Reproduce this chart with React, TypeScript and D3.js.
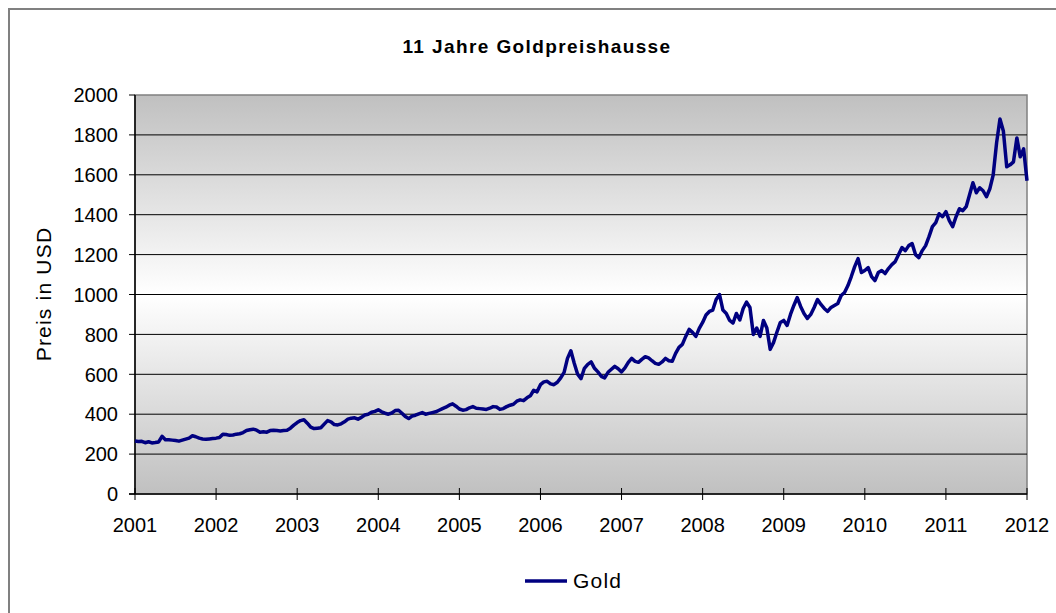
import React from 'react';
import * as d3 from 'd3';

// Goldpreis (USD), zwei Werte pro Monat
const gold2001 = [266, 263, 264, 257, 262, 256, 258, 261, 289, 272, 272, 270, 268, 265, 270, 275, 280, 292, 287, 280, 276, 274, 276, 278];
const gold2002 = [280, 283, 300, 298, 294, 296, 300, 302, 308, 318, 322, 325, 320, 310, 312, 310, 318, 320, 318, 316, 318, 320, 330, 345];
const gold2003 = [358, 368, 372, 355, 335, 328, 330, 332, 350, 368, 362, 348, 346, 352, 362, 375, 380, 382, 375, 384, 396, 400, 410, 414];
const gold2004 = [422, 412, 405, 400, 406, 418, 420, 405, 388, 378, 390, 395, 402, 408, 400, 404, 408, 412, 420, 428, 435, 445, 452, 440];
const gold2005 = [426, 420, 423, 432, 438, 430, 428, 426, 424, 430, 438, 436, 424, 428, 438, 445, 450, 465, 472, 468, 482, 492, 520, 512];
const gold2006 = [548, 562, 565, 552, 548, 560, 582, 610, 680, 718, 655, 600, 578, 630, 650, 662, 630, 612, 590, 582, 610, 625, 640, 628];
const gold2007 = [612, 632, 660, 680, 665, 660, 675, 688, 682, 668, 655, 650, 662, 680, 668, 665, 705, 735, 750, 790, 825, 810, 790, 830];
const gold2008 = [860, 897, 915, 922, 975, 1000, 922, 905, 870, 857, 905, 872, 930, 962, 935, 800, 832, 790, 870, 832, 725, 760, 812, 860];
const gold2009 = [870, 845, 900, 945, 985, 940, 905, 880, 900, 935, 975, 950, 930, 915, 935, 945, 955, 995, 1010, 1045, 1090, 1140, 1180, 1110];
const gold2010 = [1120, 1135, 1090, 1070, 1110, 1120, 1105, 1130, 1150, 1165, 1200, 1235, 1220, 1245, 1255, 1200, 1185, 1220, 1245, 1290, 1340, 1360, 1405, 1390];
const gold2011 = [1415, 1370, 1340, 1390, 1430, 1420, 1440, 1500, 1560, 1510, 1535, 1520, 1490, 1530, 1600, 1760, 1880, 1820, 1640, 1650, 1665, 1785, 1690, 1730];
const gold2012 = [1570];

const years = [2001, 2002, 2003, 2004, 2005, 2006, 2007, 2008, 2009, 2010, 2011, 2012];
const yTicks = [0, 200, 400, 600, 800, 1000, 1200, 1400, 1600, 1800, 2000];

const series = [gold2001, gold2002, gold2003, gold2004, gold2005, gold2006,
    gold2007, gold2008, gold2009, gold2010, gold2011, gold2012];

const data: { t: number; v: number }[] = [];
series.forEach((arr, k) => {
    arr.forEach((v, i) => data.push({ t: years[k] + i / 24, v }));
});

const W = 1056;
const H = 613;
const m = { left: 135, right: 1027, top: 95, bottom: 494 };
const font = 'Liberation Sans, Arial, sans-serif';

const App = () => {
    const x = d3.scaleLinear().domain([2001, 2012]).range([m.left, m.right]);
    const y = d3.scaleLinear().domain([0, 2000]).range([m.bottom, m.top]);

    const line = d3
        .line<{ t: number; v: number }>()
        .x((d) => x(d.t))
        .y((d) => y(d.v));

    return (
        <svg width={W} height={H} style={{ position: 'absolute', left: 0, top: 0 }} fontFamily={font}>
            <defs>
                <linearGradient id="bg" x1="0" y1="0" x2="0" y2="1">
                    <stop offset="0" stopColor="#c0c0c0" />
                    <stop offset="0.5" stopColor="#ffffff" />
                    <stop offset="1" stopColor="#c0c0c0" />
                </linearGradient>
            </defs>
            <rect x={0} y={0} width={W} height={H} fill="#fff" />
            <rect x={9} y={9} width={W + 20} height={H + 20} fill="none" stroke="#808080" strokeWidth={2} />

            <text x={537} y={53} textAnchor="middle" fontSize={19} fontWeight="bold" letterSpacing={1.4}>11 Jahre Goldpreishausse</text>

            {/* plot area */}
            <rect x={m.left} y={m.top} width={m.right - m.left} height={m.bottom - m.top} fill="url(#bg)" stroke="#808080" strokeWidth={1.5} />

            {yTicks.slice(1, -1).map((t) => (
                <line key={t} x1={m.left} x2={m.right} y1={y(t)} y2={y(t)} stroke="#000" strokeWidth={1} />
            ))}

            {/* axes */}
            <line x1={m.left} x2={m.left} y1={m.top} y2={m.bottom} stroke="#000" strokeWidth={1.5} />
            <line x1={m.left - 6} x2={m.right} y1={m.bottom} y2={m.bottom} stroke="#000" strokeWidth={1.5} />

            {yTicks.map((t) => (
                <g key={t}>
                    <line x1={m.left - 6} x2={m.left} y1={y(t)} y2={y(t)} stroke="#000" strokeWidth={1} />
                    <text x={118} y={y(t)} dy="0.36em" textAnchor="end" fontSize={20}>{t}</text>
                </g>
            ))}

            {years.map((yr) => (
                <g key={yr}>
                    <line x1={x(yr)} x2={x(yr)} y1={m.bottom - 6} y2={m.bottom + 6} stroke="#000" strokeWidth={1} />
                    <text x={x(yr)} y={532} textAnchor="middle" fontSize={20}>{yr}</text>
                </g>
            ))}

            <text transform={`translate(51, 294) rotate(-90)`} textAnchor="middle" fontSize={21} letterSpacing={1.2}>Preis in USD</text>

            <path d={line(data) ?? ''} fill="none" stroke="#000080" strokeWidth={3.5} strokeLinejoin="round" />

            {/* legend */}
            <line x1={525} x2={567} y1={581} y2={581} stroke="#000080" strokeWidth={3.5} />
            <text x={573} y={588} fontSize={21} letterSpacing={1.2}>Gold</text>
        </svg>
    );
};

export default App;
